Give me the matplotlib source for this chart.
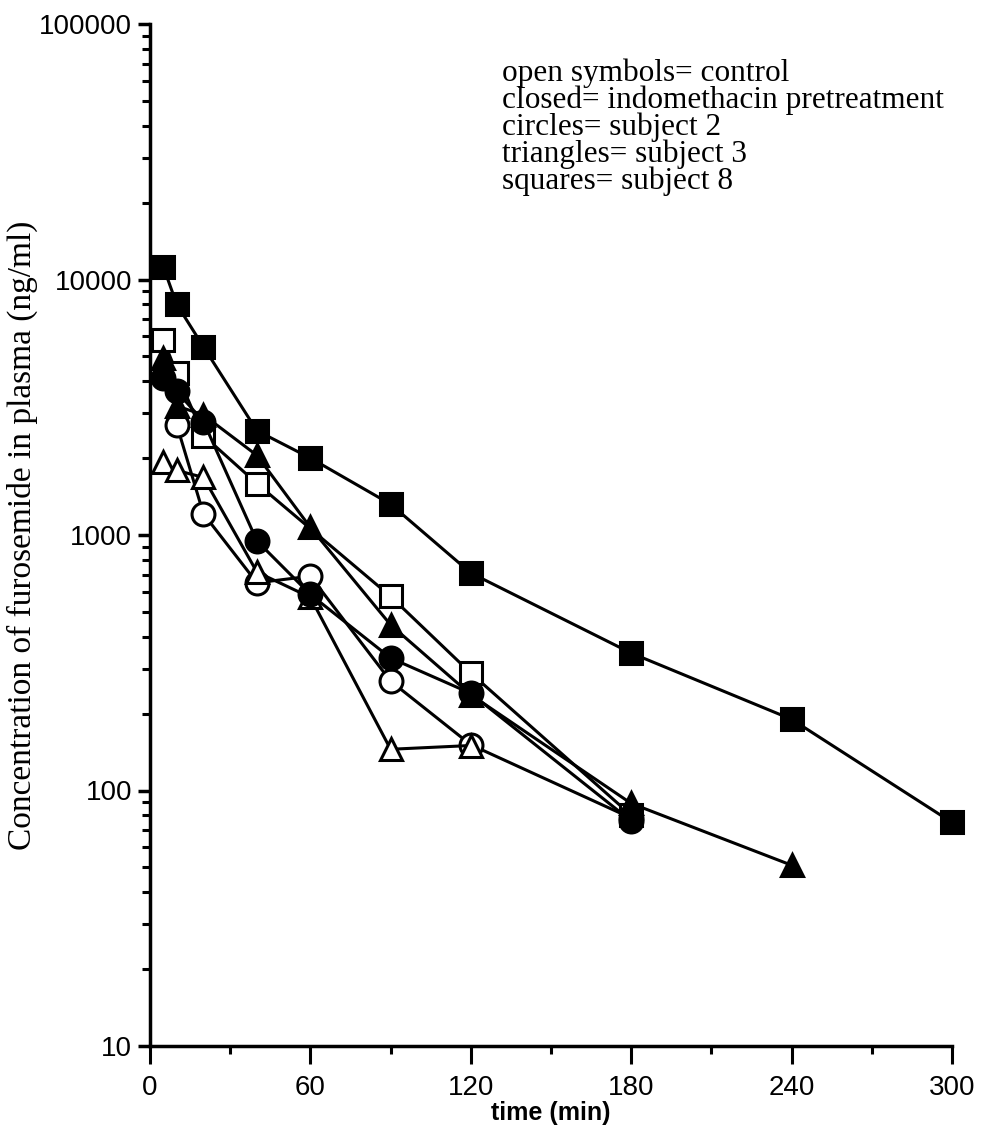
import matplotlib
matplotlib.use("Agg")
import matplotlib.pyplot as plt
from matplotlib.ticker import LogLocator, FixedLocator, NullFormatter

# time points (min) and furosemide concentrations (ng/ml)
t_sq_closed = [5, 10, 20, 40, 60, 90, 120, 180, 240, 300]
c_sq_closed = [11200, 8000, 5450, 2560, 2000, 1320, 710, 345, 190, 75]

t_sq_open = [5, 10, 20, 40, 90, 120, 180]
c_sq_open = [5800, 4300, 2450, 1590, 575, 288, 80]

t_tri_closed = [5, 10, 20, 40, 60, 90, 120, 180, 240]
c_tri_closed = [4950, 3200, 2950, 2050, 1070, 445, 237, 89, 51]

t_tri_open = [5, 10, 20, 40, 60, 90, 120]
c_tri_open = [1930, 1790, 1680, 716, 570, 145, 150]

t_circ_closed = [5, 10, 20, 40, 60, 90, 120, 180]
c_circ_closed = [4130, 3650, 2780, 948, 585, 330, 240, 76]

t_circ_open = [10, 20, 40, 60, 90, 120, 180]
c_circ_open = [2700, 1210, 650, 690, 268, 151, 78]

legend_lines = ["open symbols= control",
                "closed= indomethacin pretreatment",
                "circles= subject 2",
                "triangles= subject 3",
                "squares= subject 8"]

fig = plt.figure(figsize=(9.81, 11.31), dpi=100)
ax = fig.add_axes([150 / 981, 1 - 1046 / 1131, 802 / 981, 1022 / 1131])

lw = 2.2
ms = 16.5
mew = 2.2

# open symbols first so the filled ones sit on top
series = [
    (t_sq_open, c_sq_open, 's', 'white'),
    (t_circ_open, c_circ_open, 'o', 'white'),
    (t_tri_open, c_tri_open, '^', 'white'),
    (t_circ_closed, c_circ_closed, 'o', 'black'),
    (t_tri_closed, c_tri_closed, '^', 'black'),
    (t_sq_closed, c_sq_closed, 's', 'black'),
]
for t, c, m, fc in series:
    ax.plot(t, c, color='black', lw=lw, marker=m, markersize=ms,
            markerfacecolor=fc, markeredgecolor='black', markeredgewidth=mew,
            clip_on=False)

ax.set_yscale('log')
ax.set_ylim(10, 100000)
ax.set_xlim(0, 300)

ax.spines['top'].set_visible(False)
ax.spines['right'].set_visible(False)
ax.spines['left'].set_linewidth(2.5)
ax.spines['bottom'].set_linewidth(2.5)

ax.xaxis.set_major_locator(FixedLocator([0, 60, 120, 180, 240, 300]))
ax.xaxis.set_minor_locator(FixedLocator([30, 90, 150, 210, 270]))
ax.yaxis.set_minor_locator(LogLocator(base=10, subs=range(2, 10), numticks=10))
ax.yaxis.set_minor_formatter(NullFormatter())
ax.set_yticks([10, 100, 1000, 10000, 100000])
ax.set_yticklabels(['10', '100', '1000', '10000', '100000'])

ax.tick_params(axis='y', which='major', direction='out', length=9, width=2.5,
               labelsize=20, pad=4)
ax.tick_params(axis='y', which='minor', direction='out', length=6, width=2.2)
ax.tick_params(axis='x', which='major', direction='out', length=13, width=2.2,
               labelsize=20, pad=8)
ax.tick_params(axis='x', which='minor', direction='out', length=6, width=2.2)
for lab in ax.get_yticklabels() + ax.get_xticklabels():
    lab.set_family('Liberation Sans')

ax.set_xlabel('time (min)', fontsize=18, fontweight='bold',
              family='Liberation Sans', labelpad=0)
ax.set_ylabel('Concentration of furosemide in plasma (ng/ml)', fontsize=24,
              family='Liberation Serif')
ax.yaxis.set_label_coords(-0.14, 0.5)

ax.text(0.439, 0.966, "\n".join(legend_lines), transform=ax.transAxes,
        fontsize=22.5, family='Liberation Serif', va='top', ha='left',
        linespacing=0.89)

fig.savefig('out.png', dpi=100)
